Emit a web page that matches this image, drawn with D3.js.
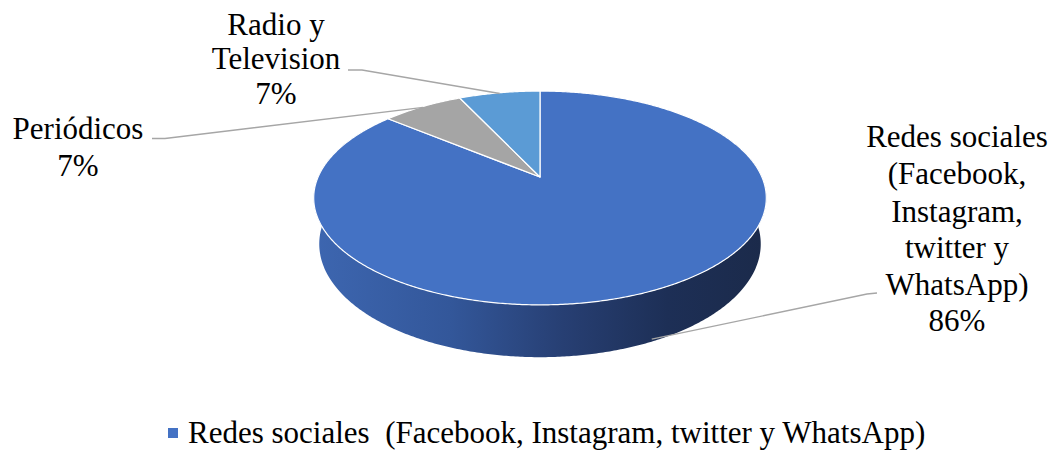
<!DOCTYPE html>
<html>
<head>
<meta charset="utf-8">
<script src="https://cdn.jsdelivr.net/npm/d3@7"></script>
<style>
  html, body { margin: 0; padding: 0; background: #ffffff; }
  svg { display: block; }
</style>
</head>
<body>
<svg id="chart" width="1054" height="450"></svg>
<script>
// Media channels and their shares
const categories = ["Redes sociales  (Facebook, Instagram, twitter y WhatsApp)", "Periódicos", "Radio y Television"];
const values = [86, 7, 7];
const labelLines = [
  ["Redes sociales", "(Facebook,", "Instagram,", "twitter y", "WhatsApp)"],
  ["Periódicos"],
  ["Radio y", "Television"]
];
const sliceColors = ["#4472C4", "#A5A5A5", "#5B9BD5"];
const legendItems = [categories[0]];

const FONT = "'Liberation Serif', 'Times New Roman', serif";
const FONT_SIZE = 31;
const svg = d3.select("#chart");

// 3D perspective camera for the tilted pie
const cam = { cx: 540, cy: 177, F: 1003, D: 4.52, elev: 27.6 * Math.PI / 180, depth: 0.236 };
const se = Math.sin(cam.elev), ce = Math.cos(cam.elev);
function proj(X, Y, Z) {
  const d = cam.D + Y * ce - Z * se;
  const up = Y * se + Z * ce;
  return [cam.cx + cam.F * X / d, cam.cy - cam.F * up / d];
}
// point on the rim at pie angle a (0 = 12 o'clock, clockwise), at height z
function rim(a, z, r = 1) { return proj(r * Math.sin(a), r * Math.cos(a), z); }
function arcPts(a0, a1, z) {
  const n = Math.max(2, Math.ceil(Math.abs(a1 - a0) / (Math.PI / 360)));
  return d3.range(n + 1).map(i => rim(a0 + (a1 - a0) * i / n, z));
}

const pie = d3.pie().sort(null).startAngle(0).endAngle(2 * Math.PI);
const arcs = pie(values);
const total = d3.sum(values);
const pct = d3.format(".0%");
const line = d3.line();

// gradient for the outer wall
const defs = svg.append("defs");
const grad = defs.append("linearGradient").attr("id", "wallGrad")
  .attr("gradientUnits", "userSpaceOnUse")
  .attr("x1", 314).attr("y1", 0).attr("x2", 767).attr("y2", 0);
[[0, "#3d66b0"], [0.3, "#33579a"], [0.55, "#273f73"], [0.78, "#1d2f56"], [1, "#1b2a4a"]]
  .forEach(([o, c]) => grad.append("stop").attr("offset", o).attr("stop-color", c));

// outer wall (front part of the first slice)
const h = -cam.depth;
const wa0 = Math.max(arcs[0].startAngle, Math.PI / 3), wa1 = Math.min(arcs[0].endAngle, 5 * Math.PI / 3);
const wallPts = arcPts(wa0, wa1, 0).concat(arcPts(wa1, wa0, h));
svg.append("path")
  .attr("d", line(wallPts) + "Z")
  .attr("fill", "url(#wallGrad)");

// top faces
svg.append("g").selectAll("path")
  .data(arcs)
  .join("path")
  .attr("d", d => line([proj(0, 0, 0)].concat(arcPts(d.startAngle, d.endAngle, 0))) + "Z")
  .attr("fill", (d, i) => sliceColors[i])
  .attr("stroke", "#ffffff")
  .attr("stroke-width", 1.2)
  .attr("stroke-linejoin", "round");

// leader lines: label elbow -> slice
const leaders = [
  { start: [877, 293], elbow: [867, 294], z: h * 0.95 },
  { start: [152, 138.5], elbow: [165, 138.5], z: 0 },
  { start: [348, 70], elbow: [362, 70], z: 0 }
];
svg.append("g").selectAll("path")
  .data(arcs)
  .join("path")
  .attr("d", (d, i) => {
    const mid = (d.startAngle + d.endAngle) / 2;
    const end = rim(mid, leaders[i].z, i === 0 ? 1 : 0.99);
    return line([leaders[i].start, leaders[i].elbow, end]);
  })
  .attr("fill", "none")
  .attr("stroke", "#a6a6a6")
  .attr("stroke-width", 1.3);

// data labels
const labelPos = [
  { x: 957, y: [147, 184, 221.5, 258, 295, 331] },
  { x: 78, y: [138.5, 176] },
  { x: 276, y: [34.5, 69, 104] }
];
arcs.forEach((d, i) => {
  const t = svg.append("text")
    .attr("text-anchor", "middle")
    .attr("font-family", FONT)
    .attr("font-size", FONT_SIZE)
    .attr("fill", "#000");
  const lines = labelLines[i].concat([pct(d.data / total)]);
  lines.forEach((s, k) => {
    t.append("tspan").attr("x", labelPos[i].x).attr("y", labelPos[i].y[k]).text(s);
  });
});

// legend
const lg = svg.append("g").selectAll("g").data(legendItems).join("g");
lg.append("rect").attr("x", 168).attr("y", 428).attr("width", 10).attr("height", 10)
  .attr("fill", (d, i) => sliceColors[i]);
lg.append("text").attr("x", 188).attr("y", 443)
  .attr("font-family", FONT)
  .attr("font-size", FONT_SIZE)
  .attr("fill", "#000")
  .style("white-space", "pre")
  .text(d => d);
</script>
</body>
</html>
